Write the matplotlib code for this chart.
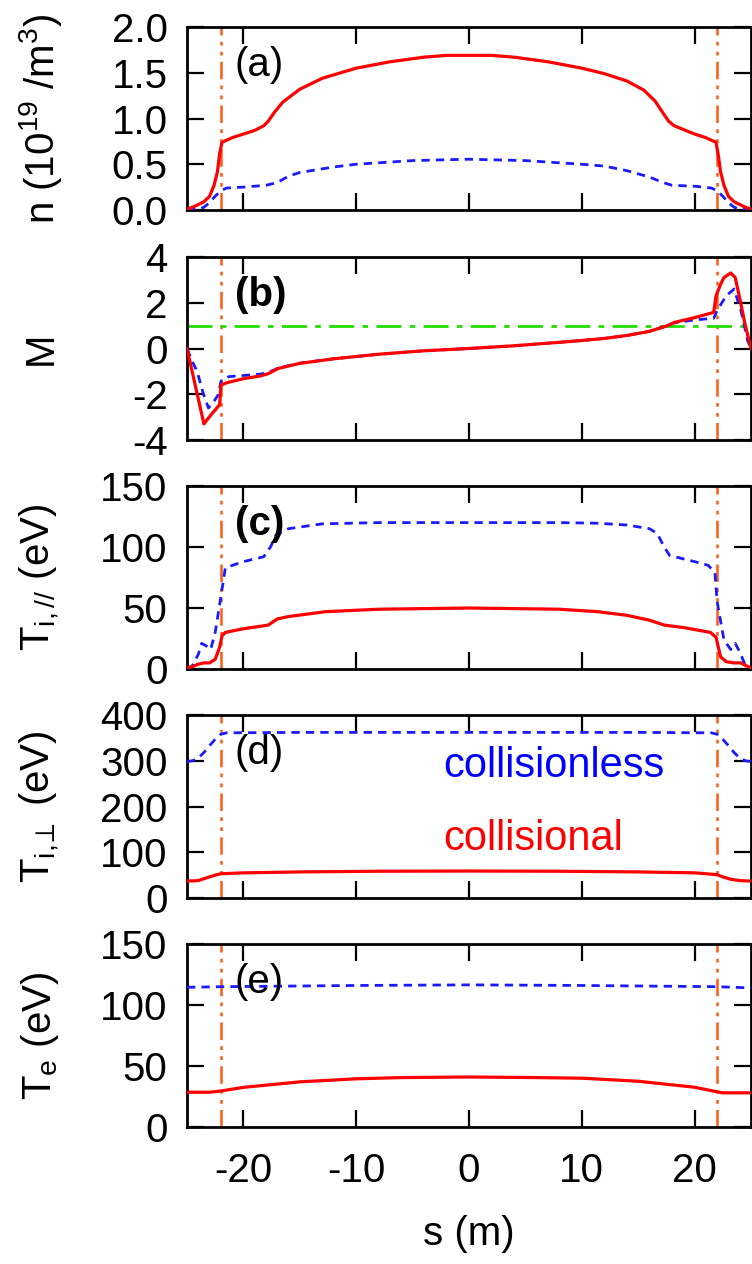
import numpy as np
import matplotlib
matplotlib.use("Agg")
from matplotlib import pyplot as plt

plt.rcParams['font.family'] = ['Liberation Sans', 'DejaVu Sans']
plt.rcParams['mathtext.fontset'] = 'custom'
plt.rcParams['mathtext.rm'] = 'Liberation Sans'
plt.rcParams['mathtext.it'] = 'Liberation Sans:italic'

# (a) density, 10^19 m^-3
s_n_col = [-25, -24.5, -24, -23.5, -23, -22.6, -22.3, -22.1, -21.9, -21, -20, -19, -18.2, -17.8,
           -17.3, -16.5, -15, -13, -10, -7, -4, -2, 0, 2, 4, 7, 10, 12, 14, 15.5, 16.5, 17.2,
           17.7, 18.2, 19, 20, 21, 21.9, 22.1, 22.3, 22.6, 23, 23.5, 24, 24.5, 25]
n_col = [0.01, 0.03, 0.06, 0.09, 0.15, 0.27, 0.42, 0.62, 0.74, 0.79, 0.83, 0.87, 0.92, 0.97,
         1.06, 1.18, 1.32, 1.44, 1.55, 1.62, 1.67, 1.69, 1.69, 1.69, 1.67, 1.62, 1.55, 1.49,
         1.41, 1.31, 1.19, 1.06, 0.97, 0.92, 0.88, 0.83, 0.79, 0.74, 0.6, 0.42, 0.27, 0.15,
         0.09, 0.06, 0.03, 0.01]
s_n_cl = [-25, -24, -23.5, -23, -22.5, -22, -21.5, -20, -19, -18, -17, -16, -15, -12, -10, -5,
          0, 5, 10, 12, 14, 16, 17.2, 18, 20, 21.5, 22, 22.5, 23, 23.5, 24, 25]
n_cl = [0.0, 0.01, 0.03, 0.08, 0.15, 0.21, 0.24, 0.25, 0.26, 0.27, 0.30, 0.37, 0.41, 0.47,
        0.50, 0.54, 0.555, 0.54, 0.50, 0.48, 0.43, 0.36, 0.30, 0.27, 0.26, 0.24, 0.21, 0.15,
        0.08, 0.03, 0.01, 0.0]

# (b) Mach number
s_M_col = [-25, -24.5, -24, -23.5, -23.2, -22.7, -22.1, -22.0, -21.5, -20, -18.5, -17.8, -16.9,
           -15, -12, -8, -4, 0, 4, 8, 10, 12, 14, 16, 17.6, 18.2, 20, 21.7, 21.9, 22.3, 22.6,
           23.2, 23.6, 24, 24.5, 25]
M_col = [0.0, -1.1, -2.2, -3.3, -3.1, -2.8, -2.45, -1.6, -1.5, -1.32, -1.2, -1.1, -0.87, -0.65,
         -0.45, -0.25, -0.1, 0.0, 0.12, 0.27, 0.35, 0.44, 0.57, 0.75, 1.0, 1.14, 1.35, 1.58,
         2.3, 2.8, 3.1, 3.3, 3.1, 2.2, 1.0, 0.0]
s_M_cl = [-25, -24.5, -24.1, -23.6, -23.1, -22.6, -22.2, -22.0, -21.3, -20, -18.5, -17.8, -16.9,
          -15, -12, -8, -4, 0, 4, 8, 10, 12, 14, 16, 17.6, 18.2, 20, 21.7, 22.0, 22.8, 23.5,
          24.1, 24.7, 25]
M_cl = [0.0, -0.6, -1.0, -1.9, -2.6, -2.3, -2.0, -1.45, -1.23, -1.18, -1.12, -1.05, -0.85,
        -0.64, -0.45, -0.25, -0.1, 0.0, 0.12, 0.27, 0.35, 0.44, 0.57, 0.75, 1.0, 1.12, 1.25,
        1.32, 1.67, 2.3, 2.6, 1.67, 0.35, 0.0]

# (c) parallel ion temperature, eV
s_Tpar_cl = [-25, -24.5, -24, -23.7, -23.3, -22.9, -22.5, -22.0, -21.6, -20, -18.2, -17.6, -17.1,
             -16, -13, -8, 0, 8, 11.4, 14, 16, 16.7, 17.3, 17.8, 20, 21.2, 21.8, 22.0, 22.6,
             23.2, 23.6, 24, 24.5, 25]
Tpar_cl = [0, 3, 12, 21, 19, 16, 30, 59, 83, 88, 92, 100, 110, 115, 119, 120, 120, 120, 119.5,
           118, 115, 111, 100, 93, 88, 85, 79, 55, 24, 16, 21, 14, 3, 0]
s_Tpar_col = [-25, -24.5, -24, -23.5, -23, -22.5, -22.1, -21.9, -21.6, -20, -18.5, -17.8, -17,
              -16, -12.7, -8, 0, 8, 11.4, 14, 16, 17.3, 19, 21.4, 21.9, 22.3, 22.8, 23.5, 24.1,
              24.5, 25]
Tpar_col = [1, 2, 4, 5, 5, 8, 18, 27, 30, 33, 35, 36, 41, 43, 47, 49, 50, 49, 47, 44, 40, 36,
            34, 30, 26, 10, 6, 5, 5, 3, 1]

# (d) perpendicular ion temperature, eV
s_Tperp = [-25, -24.5, -24, -23.5, -23, -22.5, -22, -21.5, -15, 0, 15, 21.5, 22, 22.5, 23, 23.5,
           24, 24.5, 25]
Tperp_cl = [298, 300, 306, 318, 333, 347, 358, 361, 362, 362, 362, 361, 358, 347, 333, 318, 306,
            300, 298]
s_Tperp_col = [-25, -24, -23.4, -22.5, -22, -20, -15, -8, 0, 8, 15, 20, 22, 22.5, 23.2, 24, 25]
Tperp_col = [37, 38, 43, 50, 53, 55, 57, 58.5, 59, 58.5, 57, 55, 51, 46, 41, 38, 37]

# (e) electron temperature, eV
s_Te_cl = [-25, -22, -10, 0, 10, 22, 25]
Te_cl = [114.5, 115, 116, 116.5, 116, 115, 114]
s_Te_col = [-25, -23, -22, -20, -15, -10, -6, 0, 6, 10, 15, 20, 21.9, 22.5, 25]
Te_col = [28.5, 28.5, 29.5, 32.5, 37, 39.5, 40.5, 41, 40.5, 40, 37.5, 32.6, 29, 28, 28]

s_sep = [-22.0, 22.0]

panels = [
    (s_n_col, n_col, s_n_cl, n_cl, (0, 2.0), [0, 0.5, 1.0, 1.5, 2.0],
     ['0.0', '0.5', '1.0', '1.5', '2.0'], r'n (10$^{19}$ /m$^{3}$)', '(a)', 'normal'),
    (s_M_col, M_col, s_M_cl, M_cl, (-4, 4), [-4, -2, 0, 2, 4],
     ['-4', '-2', '0', '2', '4'], 'M', '(b)', 'bold'),
    (s_Tpar_col, Tpar_col, s_Tpar_cl, Tpar_cl, (0, 150), [0, 50, 100, 150],
     ['0', '50', '100', '150'], r'T$_{\mathrm{i,//}}$ (eV)', '(c)', 'bold'),
    (s_Tperp_col, Tperp_col, s_Tperp, Tperp_cl, (0, 400), [0, 100, 200, 300, 400],
     ['0', '100', '200', '300', '400'], r'T$_{\mathrm{i,}\!\!\perp}$ (eV)', '(d)', 'normal'),
    (s_Te_col, Te_col, s_Te_cl, Te_cl, (0, 150), [0, 50, 100, 150],
     ['0', '50', '100', '150'], r'T$_{\mathrm{e}}$ (eV)', '(e)', 'normal'),
]

fig = plt.figure(figsize=(7.52, 12.64), dpi=100)
tops = [27, 257, 486, 715, 944]
H = 1264.0
left = 187 / 752.0
width = 564 / 752.0
height = 183 / H

fs = 29
for k, (xc, yc, xl, yl, ylim, yt, ytl, ylab, tag, tw) in enumerate(panels):
    ax = fig.add_axes([left, 1 - (tops[k] + 183) / H, width, height])
    ax.plot(xl, yl, color='#1a1aff', lw=2.0, dashes=(3, 2.2), zorder=3)
    ax.plot(xc, yc, color='#ff0000', lw=2.3, zorder=4)
    for xs in s_sep:
        ax.axvline(xs, color='#ff5a10', lw=1.8, dashes=(7, 2.5, 1.5, 2.5, 1.5, 2.5), zorder=2)
    if k == 1:
        ax.axhline(1.0, color='#22dd00', lw=2.0, dashes=(9, 3, 2, 3), zorder=2)
    ax.set_xlim(-25, 25)
    ax.set_ylim(*ylim)
    ax.set_yticks(yt)
    ax.set_yticklabels(ytl)
    ax.set_xticks([-20, -10, 0, 10, 20])
    ax.tick_params(direction='in', length=12, width=1.6, top=True, right=True,
                   labelsize=fs, pad=14)
    ax.tick_params(axis='x', pad=18)
    for sp in ax.spines.values():
        sp.set_linewidth(2.0)
    if k < 4:
        ax.tick_params(labelbottom=False)
    else:
        ax.set_xticklabels(['-20', '-10', '0', '10', '20'])
        ax.set_xlabel('s (m)', fontsize=fs, labelpad=18)
    ax.set_ylabel(ylab, fontsize=fs)
    ax.yaxis.label.set_va('center')
    ax.yaxis.set_label_coords(-0.26, 0.5)
    ax.text(0.085, 0.79, tag, transform=ax.transAxes, fontsize=fs, fontweight=tw,
            ha='left', va='center')
    if k == 3:
        ax.text(0.455, 0.72, 'collisionless', transform=ax.transAxes, fontsize=30,
                color='#0000ff', ha='left', va='center')
        ax.text(0.455, 0.32, 'collisional', transform=ax.transAxes, fontsize=30,
                color='#ff0000', ha='left', va='center')

fig.savefig('out.png', dpi=100)
